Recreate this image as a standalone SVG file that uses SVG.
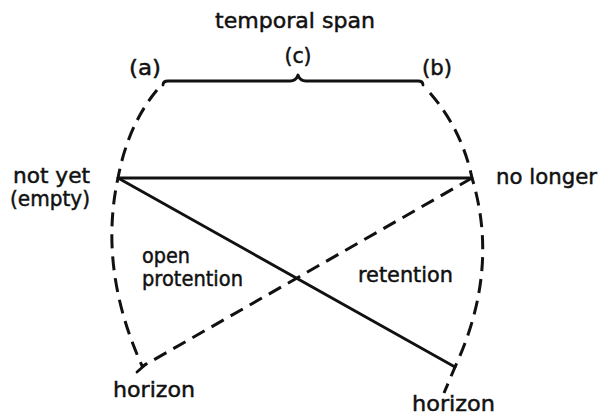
<svg xmlns="http://www.w3.org/2000/svg" width="604" height="417" viewBox="0 0 604 417">
<style>
text{font-family:"DejaVu Sans","Liberation Sans",sans-serif;font-size:22px;fill:#111;stroke:#111;stroke-width:0.5}
.solid{fill:none;stroke:#111;stroke-width:2.8;stroke-linecap:round;stroke-linejoin:round}
.dash{fill:none;stroke:#111;stroke-width:3;stroke-dasharray:14 8}
</style>
<rect width="604" height="417" fill="#fff"/>
<g id="title">
<text x="215" y="28" textLength="160" lengthAdjust="spacingAndGlyphs">temporal span</text>
</g>
<g id="label-c"><text x="298" y="63" text-anchor="middle" textLength="27" lengthAdjust="spacingAndGlyphs">(c)</text></g>
<g id="label-a"><text x="145" y="75" text-anchor="middle" textLength="32" lengthAdjust="spacingAndGlyphs">(a)</text></g>
<g id="label-b"><text x="437" y="75" text-anchor="middle" textLength="30" lengthAdjust="spacingAndGlyphs">(b)</text></g>
<g id="node-notyet">
<text x="13" y="183" textLength="77" lengthAdjust="spacingAndGlyphs">not yet</text>
<text x="10" y="206" textLength="80" lengthAdjust="spacingAndGlyphs">(empty)</text>
</g>
<g id="node-nolonger"><text x="496" y="184" textLength="101" lengthAdjust="spacingAndGlyphs">no longer</text></g>
<g id="label-protention">
<text x="142" y="263" textLength="48" lengthAdjust="spacingAndGlyphs">open</text>
<text x="142" y="286" textLength="101" lengthAdjust="spacingAndGlyphs">protention</text>
</g>
<g id="label-retention"><text x="358" y="282" textLength="95" lengthAdjust="spacingAndGlyphs">retention</text></g>
<g id="node-horizon-left"><text x="113" y="397" textLength="82" lengthAdjust="spacingAndGlyphs">horizon</text></g>
<g id="node-horizon-right"><text x="412" y="411" textLength="83" lengthAdjust="spacingAndGlyphs">horizon</text></g>
<g id="connectors">
<path class="solid" d="M163,85 Q163,81 168,81 L290,81 Q296,81 298,75 Q300,81 306,81 L418,81 Q423,81 423,85"/>
<path class="solid" d="M118,178 L472,178"/>
<path class="solid" d="M118,178 L455,367"/>
<path class="dash" d="M472,178 L143,366"/>
<path class="dash" d="M157,90 Q128,125 118,178 Q98,270 143,368"/>
<path class="dash" d="M430,93 Q462,130 472,178 Q500,270 455,367 L444,393"/>
<path class="solid" d="M137,372 L146,364"/>
</g>
</svg>
